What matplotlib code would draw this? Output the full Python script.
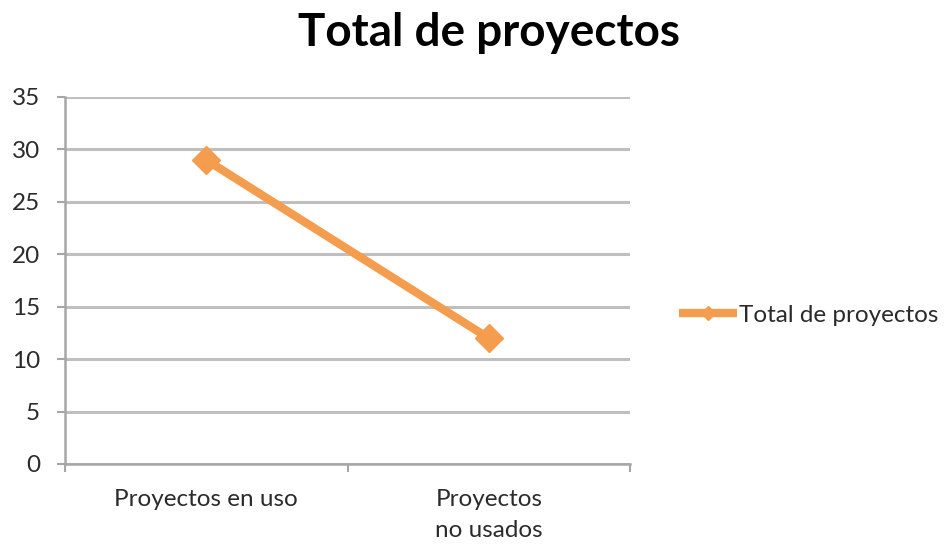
import matplotlib
matplotlib.use("Agg")
import matplotlib.pyplot as plt
from matplotlib.ticker import FixedLocator

categories = ["Proyectos en uso", "Proyectos\nno usados"]
values = [29, 12]
series_name = "Total de proyectos"
title = "Total de proyectos"
yticks = [0, 5, 10, 15, 20, 25, 30, 35]

plt.rcParams['font.family'] = ['Lato', 'DejaVu Sans']

fig = plt.figure(figsize=(9.51, 5.44), dpi=100)
ax = fig.add_axes([65/951, 1-464/544, (630-65)/951, (464-97)/544])

color = '#F59D4E'
x = list(range(len(categories)))
ax.plot(x, values, color=color, lw=6, marker='D', ms=14, label=series_name,
        solid_capstyle='butt')

ax.set_xlim(-0.5, len(categories)-0.5)
ax.set_ylim(0, 35)
ax.set_yticks(yticks)
ax.tick_params(axis='y', length=6, color='#A6A6A6', width=1.5, labelsize=17.5,
               labelcolor='#2b2b2b', pad=12)
ax.yaxis.grid(True, color='#BFBFBF', lw=2.2)
ax.set_axisbelow(True)

ax.xaxis.set_major_locator(FixedLocator([-0.5, 0.5, 1.5]))
ax.set_xticklabels(['', '', ''])
ax.xaxis.set_minor_locator(FixedLocator(x))
ax.set_xticklabels(categories, minor=True, linespacing=1.6)
ax.tick_params(axis='x', which='major', length=6, color='#A6A6A6', width=1.5)
ax.tick_params(axis='x', which='minor', length=0, labelsize=17.5,
               labelcolor='#2b2b2b', pad=18)

for s in ['top', 'right']:
    ax.spines[s].set_visible(False)
for s in ['left', 'bottom']:
    ax.spines[s].set_color('#A6A6A6')
    ax.spines[s].set_linewidth(1.8)

fig.text(489/951, 1-33/544, title, ha='center', va='center', fontsize=33,
         fontweight='bold', color='black')

leg = ax.legend(loc='center left', bbox_to_anchor=(679/951, 1-315/544),
                bbox_transform=fig.transFigure, frameon=False, fontsize=17.5,
                handlelength=2.4, handletextpad=0.05, markerscale=0.5,
                borderpad=0, borderaxespad=0)
for t in leg.get_texts():
    t.set_color('#2b2b2b')

fig.savefig('out.png', dpi=100)
